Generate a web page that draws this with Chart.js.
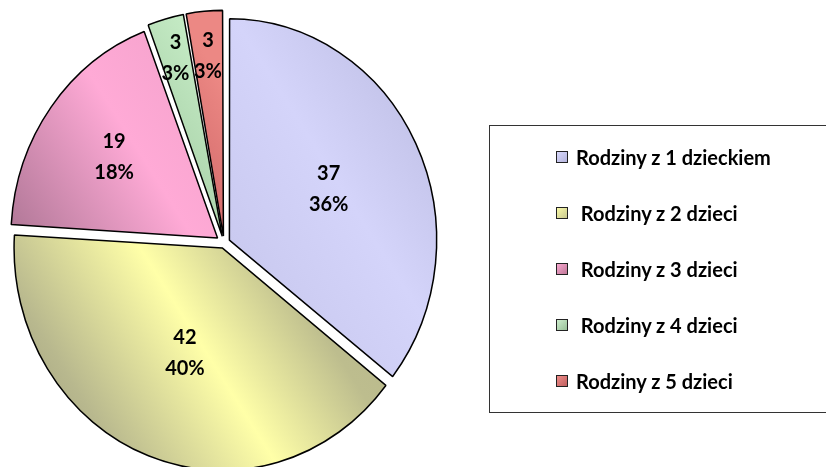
<!DOCTYPE html>
<html>
<head>
<meta charset="utf-8">
<script src="https://cdn.jsdelivr.net/npm/chart.js@4.4.1/dist/chart.umd.min.js"></script>
<style>
  html, body { margin: 0; padding: 0; background: #fff; }
  #wrap { position: relative; width: 826px; height: 467px; overflow: hidden; }
  #legend {
    position: absolute; left: 489px; top: 125px; width: 360px; height: 288px;
    border: 1.5px solid #333; box-sizing: border-box;
    font: bold 20px Lato, "Open Sans", sans-serif; color: #000;
  }
  #legend ul { list-style: none; margin: 0; padding: 0; position: absolute; left: 66px; top: 3px; }
  #legend li { height: 56px; display: flex; align-items: center; white-space: pre; }
  #legend .sw { width: 10px; height: 10px; border: 1px solid #222; margin-right: 8px; flex: none; }
</style>
</head>
<body>
<div id="wrap">
  <canvas id="myChart"></canvas>
  <div id="legend"><ul></ul></div>
</div>

<script>
    // data
    const labels = ['Rodziny z 1 dzieckiem', ' Rodziny z 2 dzieci', ' Rodziny z 3 dzieci', ' Rodziny z 4 dzieci', 'Rodziny z 5 dzieci'];
    const counts = [37, 42, 19, 3, 3];

    // colours: legend swatches and the shaded fill of each slice
    const swatchColors = [
        ['#D8D8FC', '#B4B4DC'],
        ['#FAFAA8', '#C8C890'],
        ['#F8A8D0', '#C07898'],
        ['#CDEDCD', '#98C098'],
        ['#EE8C88', '#C06060']
    ];
    const shades = [
        [[-230, '#C2C2E8'], [0, '#CACAF0'], [120, '#D4D4FA'], [230, '#C2C2E8']],
        [[-230, '#ACAC86'], [-195, '#B8B88E'], [-68, '#FFFFA8'], [40, '#BDBD8E'], [230, '#B0B088']],
        [[-230, '#A46C8C'], [-160, '#B47A9A'], [-20, '#FFAAD6'], [60, '#F6A4CE'], [230, '#F0A0C8']],
        [[-230, '#9AC49A'], [0, '#ADD5AD'], [80, '#C4EAC4'], [230, '#C4EAC4']],
        [[-230, '#C05A5A'], [0, '#D46C6C'], [80, '#EC8884'], [230, '#EC8884']]
    ];
    const labelRadius = [0.53, 0.5, 0.62, 0.82, 0.8];   // where the value text sits, as a share of the radius
    const stretchY = 1.068;   // the pie in the picture is a little taller than wide

    const total = counts.reduce((a, b) => a + b, 0);

    function sliceFill(context) {
        const chart = context.chart;
        const a = chart.chartArea;
        const i = context.dataIndex;
        if (!a) return swatchColors[i][0];
        const cx = (a.left + a.right) / 2, cy = (a.top + a.bottom) / 2;
        const ux = 0.83, uy = -0.56, L = 230;
        const g = chart.ctx.createLinearGradient(cx - ux * L, cy - uy * L, cx + ux * L, cy + uy * L);
        shades[i].forEach(([d, col]) => g.addColorStop((d + L) / (2 * L), col));
        return g;
    }

    // stretch the pie vertically, then write the value and percent on each slice
    const pieLabels = {
        id: 'pieLabels',
        beforeDatasetsDraw(chart) {
            const a = chart.chartArea;
            const cx = (a.left + a.right) / 2, cy = (a.top + a.bottom) / 2;
            const c = chart.ctx;
            c.save();
            c.translate(cx, cy);
            c.scale(1, stretchY);
            c.translate(-cx, -cy);
        },
        afterDatasetsDraw(chart) {
            const c = chart.ctx;
            c.restore();
            const a = chart.chartArea;
            const cy0 = (a.top + a.bottom) / 2;
            const meta = chart.getDatasetMeta(0);
            c.save();
            c.font = 'bold 20px Lato, "Open Sans", sans-serif';
            c.fillStyle = '#000';
            c.textAlign = 'center';
            c.textBaseline = 'middle';
            meta.data.forEach((arc, i) => {
                const p = arc.getProps(['x', 'y', 'startAngle', 'endAngle', 'outerRadius', 'circumference']);
                const mid = (p.startAngle + p.endAngle) / 2;
                const off = (arc.options.offset || 0) / 4 * (2 - Math.sin(Math.min(Math.PI, p.circumference)));
                const r = labelRadius[i] * p.outerRadius + off;
                const px = p.x + Math.cos(mid) * r;
                const py = cy0 + (p.y - cy0 + Math.sin(mid) * r) * stretchY;
                const pct = Math.round(counts[i] / total * 100) + '%';
                c.fillText(String(counts[i]), px, py - 15);
                c.fillText(pct, px, py + 16);
            });
            c.restore();
        }
    };

    const canvas = document.getElementById('myChart');
    canvas.width = 826;
    canvas.height = 467;

    const ctx = canvas.getContext('2d');
    const myChart = new Chart(ctx, {
        type: 'pie',
        data: {
            labels: labels,
            datasets: [{
                data: counts,
                backgroundColor: sliceFill,
                borderColor: '#000',
                borderWidth: 1.5,
                offset: [24, 20, 32, 26, 26],
                hoverOffset: 0,
                radius: 206,
                clip: false
            }]
        },
        options: {
            responsive: false,
            animation: false,
            layout: {
                padding: { left: 0, top: 19, right: 378, bottom: 0 }
            },
            plugins: {
                legend: { display: false },
                tooltip: { enabled: false }
            }
        },
        plugins: [pieLabels]
    });

    // legend box in HTML, built from the chart's own labels
    const ul = document.querySelector('#legend ul');
    myChart.data.labels.forEach((text, i) => {
        const li = document.createElement('li');
        const sw = document.createElement('span');
        sw.className = 'sw';
        sw.style.background = 'linear-gradient(135deg, ' + swatchColors[i][0] + ', ' + swatchColors[i][1] + ')';
        li.appendChild(sw);
        li.appendChild(document.createTextNode(text));
        ul.appendChild(li);
    });
</script>
</body>
</html>
